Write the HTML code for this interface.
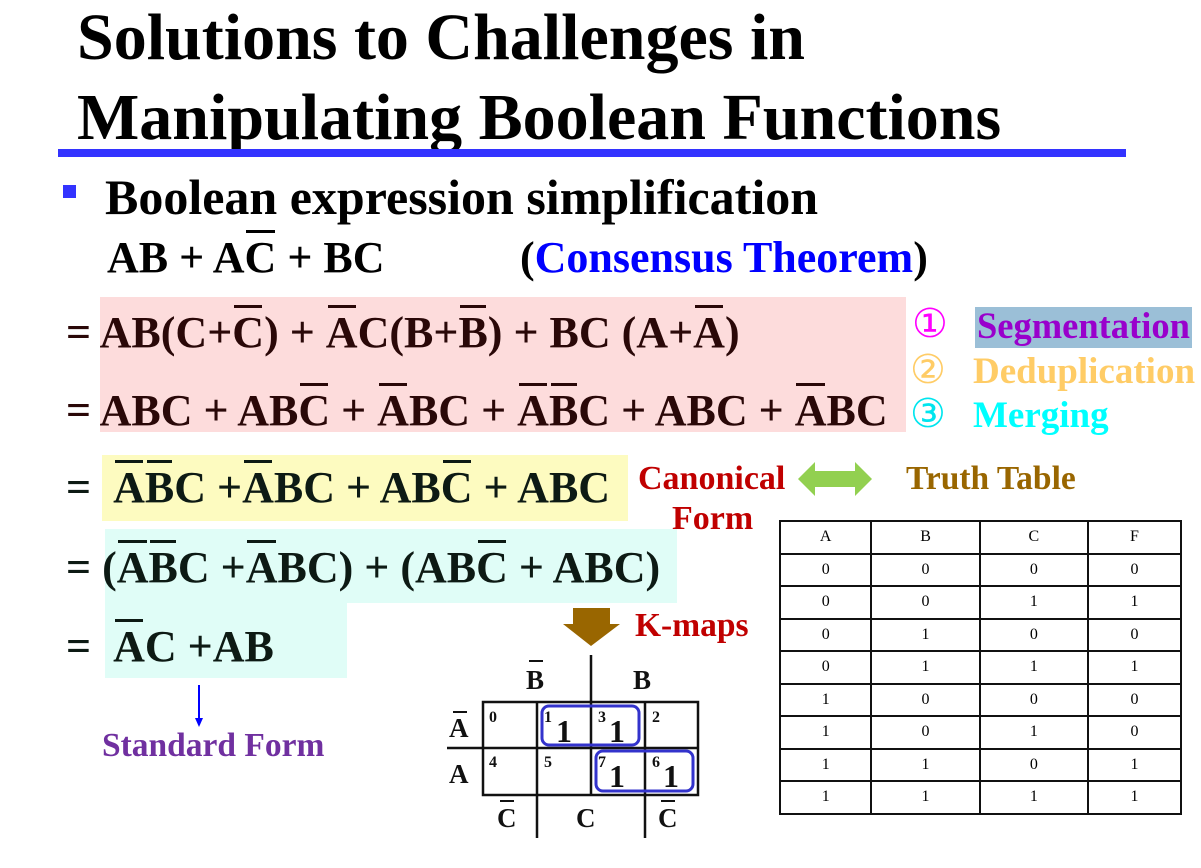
<!DOCTYPE html>
<html><head><meta charset="utf-8"><style>
body{margin:0;width:1201px;height:868px;background:#fff;position:relative;overflow:hidden;font-family:"Liberation Serif",serif;font-weight:bold}
.t{position:absolute;white-space:nowrap;line-height:1}
.o{position:relative}
.o::before{content:"";position:absolute;left:0.04em;right:0.04em;top:-0.07em;height:3px;background:currentColor}
.bg{position:absolute}
.eq{font-size:44px;color:#2a0808}
.eq2{font-size:44px;color:#0d1a14}
table{position:absolute;left:779px;top:520px;border-collapse:collapse;font-weight:normal;font-size:16px;table-layout:fixed;width:403px}
td{border:2px solid #111;text-align:center;height:30.5px;padding:0}
</style></head><body>
<div class="t" style="left:77px;top:5px;font-size:66px">Solutions to Challenges in</div>
<div class="t" style="left:77px;top:85px;font-size:66px">Manipulating Boolean Functions</div>
<div class="bg" style="left:58px;top:149px;width:1068px;height:8px;background:#3333ff"></div>
<div class="bg" style="left:63px;top:185px;width:13px;height:13px;background:#3333ff"></div>
<div class="t" style="left:105px;top:172px;font-size:50px">Boolean expression simplification</div>
<div class="t" style="left:107px;top:236px;font-size:44px">AB + A<span class="o">C</span> + BC</div>
<div class="t" style="left:520px;top:236px;font-size:44px">(<span style="color:#0000ff">Consensus Theorem</span>)</div>

<div class="bg" style="left:100px;top:297px;width:806px;height:135px;background:#fddcdc"></div>
<div class="bg" style="left:102px;top:455px;width:526px;height:66px;background:#fdfbc0"></div>
<div class="bg" style="left:105px;top:529px;width:572px;height:74px;background:#e0fdf7"></div>
<div class="bg" style="left:105px;top:603px;width:242px;height:75px;background:#e0fdf7"></div>

<div class="t eq" style="left:66px;top:311px">= AB(C+<span class="o">C</span>) + <span class="o">A</span>C(B+<span class="o">B</span>) + BC (A+<span class="o">A</span>)</div>
<div class="t eq" style="left:66px;top:389px">= ABC + AB<span class="o">C</span> + <span class="o">A</span>BC + <span class="o">A</span><span class="o">B</span>C + ABC + <span class="o">A</span>BC</div>
<div class="t eq2" style="left:66px;top:466px">= &nbsp;<span class="o">A</span><span class="o">B</span>C +<span class="o">A</span>BC + AB<span class="o">C</span> + ABC</div>
<div class="t eq2" style="left:66px;top:546px">= (<span class="o">A</span><span class="o">B</span>C +<span class="o">A</span>BC) + (AB<span class="o">C</span> + ABC)</div>
<div class="t eq2" style="left:66px;top:625px">= &nbsp;<span class="o">A</span>C +AB</div>

<div class="t" style="left:912px;top:304px;font-size:40px;color:#ff00ff;font-weight:normal;font-family:'DejaVu Sans',sans-serif">①</div>
<div class="bg" style="left:975px;top:307px;width:217px;height:41px;background:#9bbfd7"></div>
<div class="t" style="left:977px;top:308px;font-size:36.5px;color:#9900cc">Segmentation</div>
<div class="t" style="left:910px;top:350px;font-size:40px;color:#ffcc66;font-weight:normal;font-family:'DejaVu Sans',sans-serif">②</div>
<div class="t" style="left:973px;top:353px;font-size:37px;color:#ffcc66">Deduplication</div>
<div class="t" style="left:910px;top:394px;font-size:40px;color:#00e5ee;font-weight:normal;font-family:'DejaVu Sans',sans-serif">③</div>
<div class="t" style="left:973px;top:397px;font-size:37px;color:#00ffff">Merging</div>

<div class="t" style="left:638px;top:462px;font-size:34px;color:#c00000">Canonical</div>
<div class="t" style="left:672px;top:502px;font-size:34px;color:#c00000">Form</div>
<div class="t" style="left:906px;top:462px;font-size:33.5px;color:#996600">Truth Table</div>
<svg style="position:absolute;left:0;top:0" width="1201" height="868">
<polygon points="798,479 815,462 815,471 855,471 855,462 872,479 855,496 855,487 815,487 815,496" fill="#92d050"/>
<polygon points="573,608 610,608 610,624 620,624 591,646 563,624 573,624" fill="#996600"/>
<line x1="199" y1="685" x2="199" y2="720" stroke="#0000ff" stroke-width="2"/>
<polygon points="195,718 203,718 199,727" fill="#0000ff"/>
<g stroke="#111" stroke-width="2.5" fill="none">
<rect x="483" y="702" width="215" height="93"/>
<line x1="591" y1="655" x2="591" y2="795"/>
<line x1="537" y1="702" x2="537" y2="838"/>
<line x1="645" y1="702" x2="645" y2="838"/>
<line x1="447" y1="748" x2="698" y2="748"/>
</g>
<g stroke="#3333cc" stroke-width="3" fill="none">
<rect x="542" y="706" width="97" height="39" rx="7"/>
<rect x="596" y="751" width="97" height="40" rx="7"/>
</g>
<g font-family="Liberation Serif" font-size="16" fill="#111">
<text x="489" y="722">0</text><text x="544" y="722">1</text><text x="598" y="722">3</text><text x="652" y="722">2</text>
<text x="489" y="767">4</text><text x="544" y="767">5</text><text x="598" y="767">7</text><text x="652" y="767">6</text>
</g>
<g font-family="Liberation Serif" font-weight="bold" font-size="32" fill="#111">
<text x="556" y="742">1</text><text x="609" y="742">1</text><text x="609" y="787">1</text><text x="663" y="787">1</text>
</g>
<g font-family="Liberation Serif" font-weight="bold" font-size="27" fill="#111">
<text x="526" y="689">B</text><text x="633" y="689">B</text>
<text x="449" y="737">A</text><text x="449" y="783">A</text>
<text x="497" y="827">C</text><text x="576" y="827">C</text><text x="658" y="827">C</text>
</g>
<g stroke="#111" stroke-width="2">
<line x1="529" y1="661" x2="543" y2="661"/><line x1="453" y1="712" x2="467" y2="712"/>
<line x1="500" y1="801" x2="514" y2="801"/><line x1="661" y1="801" x2="675" y2="801"/>
</g>
</svg>
<div class="t" style="left:635px;top:609px;font-size:33.5px;color:#c00000">K-maps</div>
<div class="t" style="left:102px;top:729px;font-size:33.5px;color:#7030a0">Standard Form</div>

<table>
<colgroup><col style="width:22.8%"><col style="width:27%"><col style="width:27%"><col style="width:23.2%"></colgroup>
<tr><td>A</td><td>B</td><td>C</td><td>F</td></tr>
<tr><td>0</td><td>0</td><td>0</td><td>0</td></tr>
<tr><td>0</td><td>0</td><td>1</td><td>1</td></tr>
<tr><td>0</td><td>1</td><td>0</td><td>0</td></tr>
<tr><td>0</td><td>1</td><td>1</td><td>1</td></tr>
<tr><td>1</td><td>0</td><td>0</td><td>0</td></tr>
<tr><td>1</td><td>0</td><td>1</td><td>0</td></tr>
<tr><td>1</td><td>1</td><td>0</td><td>1</td></tr>
<tr><td>1</td><td>1</td><td>1</td><td>1</td></tr>
</table>
</body></html>
